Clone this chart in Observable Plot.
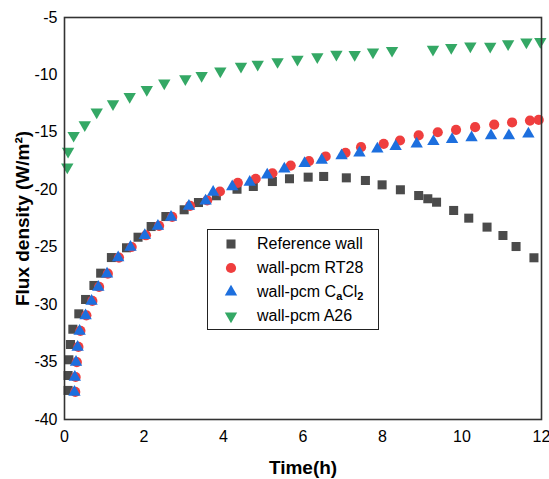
<!DOCTYPE html>
<html>
<head>
<meta charset="utf-8">
<script src="https://cdn.jsdelivr.net/npm/d3@7"></script>
<script src="https://cdn.jsdelivr.net/npm/@observablehq/plot@0.6"></script>
<style>
  html, body { margin: 0; padding: 0; background: #fff; }
  #wrap { position: relative; width: 549px; height: 479px; font-family: "Liberation Sans", Arial, sans-serif; }
  #wrap svg.plot { display: block; }
  g[aria-label="y-axis label"] text, g[aria-label="x-axis label"] text { font-weight: bold; font-size: 19px; }
  #legend { position: absolute; left: 207px; top: 229px; width: 172px; height: 101px; border: 1px solid #222; background: #fff; box-sizing: border-box; }
  .row { position: absolute; left: 0; height: 24px; display: flex; align-items: center; font-size: 16px; color: #000; white-space: nowrap; }
  .row svg { width: 22px; height: 22px; margin-left: 12px; margin-right: 15px; }
  .row sub { font-size: 11px; font-weight: bold; vertical-align: -3px; line-height: 0; }
</style>
</head>
<body>
<div id="wrap"></div>
<script>
// ---- data ----
const xTicks = [0, 2, 4, 6, 8, 10, 12];
const yTicks = [-40, -35, -30, -25, -20, -15, -10, -5];

const refTime = [0.09, 0.09, 0.11, 0.15, 0.21, 0.36, 0.53, 0.74, 0.91, 1.18, 1.56, 1.85, 2.18, 2.55, 3.01, 3.37, 3.82, 4.34, 4.75, 5.23, 5.66, 6.13, 6.52, 7.09, 7.57, 7.99, 8.45, 8.91, 9.14, 9.36, 9.79, 10.17, 10.63, 11.03, 11.36, 11.81];
const refFlux = [-37.47, -36.17, -34.80, -33.47, -32.14, -30.80, -29.55, -28.33, -27.26, -25.90, -25.05, -24.13, -23.20, -22.33, -21.74, -21.11, -20.52, -19.95, -19.71, -19.28, -19.04, -18.90, -18.84, -18.96, -19.19, -19.57, -20.00, -20.50, -20.78, -21.08, -21.80, -22.47, -23.25, -23.98, -24.94, -25.92];

const rt28Time = [0.27, 0.28, 0.31, 0.35, 0.40, 0.55, 0.70, 0.87, 1.09, 1.37, 1.69, 2.05, 2.38, 2.71, 3.16, 3.59, 3.91, 4.36, 4.81, 5.23, 5.69, 6.15, 6.57, 7.07, 7.46, 8.03, 8.44, 8.91, 9.39, 9.85, 10.33, 10.81, 11.26, 11.71, 11.93];
const rt28Flux = [-37.60, -36.30, -35.00, -33.68, -32.28, -30.93, -29.68, -28.46, -27.30, -25.90, -24.98, -23.96, -23.14, -22.36, -21.40, -20.92, -20.15, -19.39, -19.04, -18.56, -17.89, -17.51, -17.10, -16.78, -16.29, -16.00, -15.71, -15.27, -14.99, -14.78, -14.55, -14.32, -14.14, -13.97, -13.92];

const cacl2Time = [0.25, 0.26, 0.29, 0.33, 0.38, 0.53, 0.68, 0.85, 1.07, 1.35, 1.66, 2.02, 2.35, 2.68, 3.13, 3.55, 3.74, 4.22, 4.66, 5.10, 5.53, 6.04, 6.47, 6.97, 7.42, 7.87, 8.33, 8.86, 9.28, 9.75, 10.24, 10.73, 11.18, 11.67];
const cacl2Flux = [-37.62, -36.32, -35.01, -33.71, -32.31, -30.95, -29.70, -28.48, -27.32, -25.91, -25.00, -23.98, -23.17, -22.39, -21.43, -20.97, -20.21, -19.72, -19.34, -18.71, -18.18, -17.71, -17.43, -17.03, -16.79, -16.44, -16.23, -16.01, -15.80, -15.62, -15.47, -15.28, -15.28, -15.14];

const a26Time = [0.07, 0.09, 0.23, 0.51, 0.81, 1.22, 1.64, 2.07, 2.51, 3.04, 3.45, 3.92, 4.44, 4.86, 5.36, 5.86, 6.36, 6.84, 7.30, 7.76, 8.24, 9.27, 9.73, 10.21, 10.71, 11.16, 11.62, 11.97];
const a26Flux = [-18.02, -16.66, -15.27, -14.34, -13.23, -12.51, -11.88, -11.27, -10.71, -10.34, -10.05, -9.66, -9.26, -9.07, -8.85, -8.64, -8.42, -8.20, -8.22, -8.01, -7.87, -7.78, -7.61, -7.49, -7.52, -7.29, -7.14, -7.09];

// ---- build tables ----
const rows = (t, f) => t.map((x, i) => ({t: x, v: f[i]}));
const ref = rows(refTime, refFlux);
const rt28 = rows(rt28Time, rt28Flux);
const cacl2 = rows(cacl2Time, cacl2Flux);
const a26 = rows(a26Time, a26Flux);

const C = {ref: "#4b4b4b", rt28: "#ef3e3e", cacl2: "#1d6fde", a26: "#34a865"};
const R = {sq: 5.1, ci: 5.1, tri: 4.6};

const chart = Plot.plot({
  width: 549,
  height: 479,
  marginTop: 17,
  marginRight: 8,
  marginBottom: 60,
  marginLeft: 64,
  style: {fontFamily: "'Liberation Sans', Arial, sans-serif", fontSize: "16px", color: "#000", background: "transparent", overflow: "visible"},
  x: {domain: [0, 12]},
  y: {domain: [-40, -5]},
  marks: [
    Plot.axisX({ticks: xTicks, tickSize: 0, tickPadding: 11, tickFormat: d => String(d),
      label: "Time(h)", labelAnchor: "center", labelArrow: "none", labelOffset: 54}),
    Plot.axisY({ticks: yTicks, tickSize: 0, tickPadding: 7, tickFormat: d => String(d),
      label: "Flux density (W/m²)", labelAnchor: "center", labelArrow: "none", labelOffset: 49}),
    Plot.dot(ref, {x: "t", y: "v", symbol: "square", r: R.sq, fill: C.ref}),
    Plot.dot(rt28, {x: "t", y: "v", symbol: "circle", r: R.ci, fill: C.rt28}),
    Plot.dot(cacl2, {x: "t", y: "v", symbol: "triangle", r: R.tri, fill: C.cacl2}),
    Plot.dot(a26, {x: "t", y: "v", symbol: "triangle", rotate: 180, r: R.tri, fill: C.a26}),
    Plot.frame({stroke: "#333", strokeWidth: 1.6})
  ]
});
const wrap = document.getElementById("wrap");
wrap.appendChild(chart);

// ---- legend ----
const legendItems = [
  {html: "Reference wall", sym: d3.symbolSquare, r: R.sq, color: C.ref, rot: 0},
  {html: "wall-pcm RT28", sym: d3.symbolCircle, r: R.ci, color: C.rt28, rot: 0},
  {html: "wall-pcm C<sub>a</sub>Cl<sub>2</sub>", sym: d3.symbolTriangle, r: R.tri, color: C.cacl2, rot: 0},
  {html: "wall-pcm A26", sym: d3.symbolTriangle, r: R.tri, color: C.a26, rot: 180}
];
const legend = document.createElement("div");
legend.id = "legend";
legendItems.forEach((it, i) => {
  const row = document.createElement("div");
  row.className = "row";
  row.style.top = (2 + i * 24) + "px";
  const path = d3.symbol(it.sym, Math.PI * it.r * it.r)();
  row.innerHTML = `<svg viewBox="-11 -11 22 22"><path d="${path}" fill="${it.color}" transform="rotate(${it.rot})"/></svg><span>${it.html}</span>`;
  legend.appendChild(row);
});
wrap.appendChild(legend);
</script>
</body>
</html>
